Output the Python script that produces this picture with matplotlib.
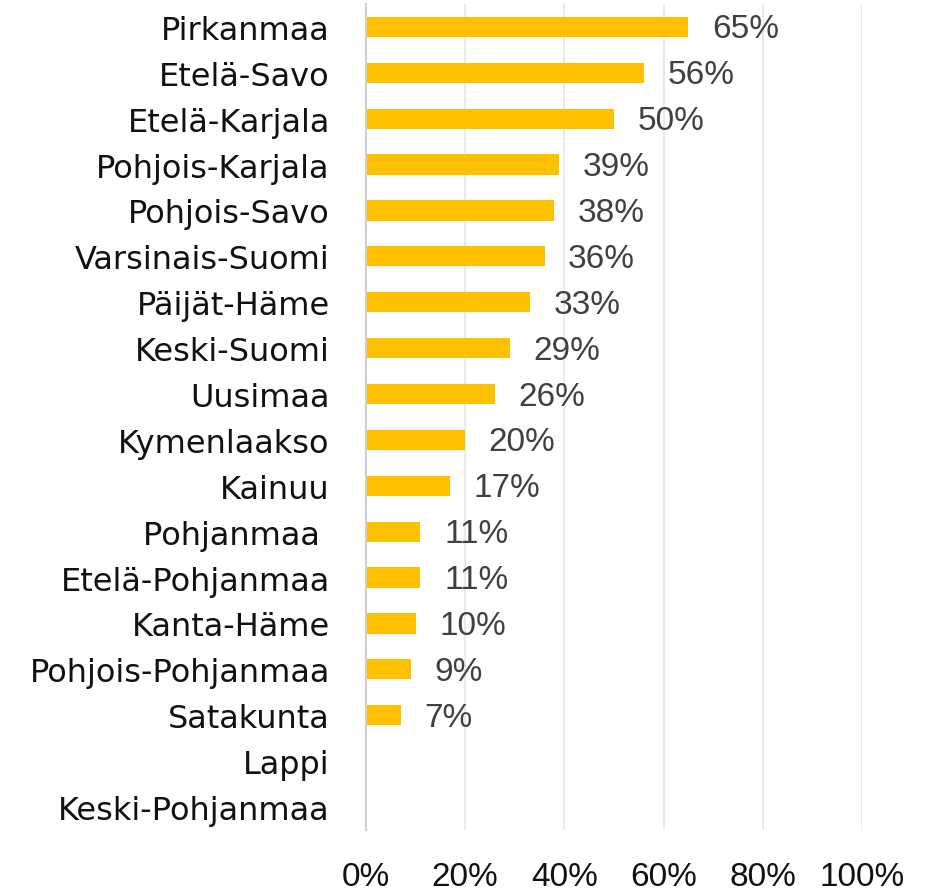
import matplotlib
matplotlib.use("Agg")
import matplotlib.pyplot as plt
from matplotlib.ticker import FuncFormatter

categories = ["Pirkanmaa", "Etelä-Savo", "Etelä-Karjala", "Pohjois-Karjala", "Pohjois-Savo",
              "Varsinais-Suomi", "Päijät-Häme", "Keski-Suomi", "Uusimaa", "Kymenlaakso",
              "Kainuu", "Pohjanmaa ", "Etelä-Pohjanmaa", "Kanta-Häme", "Pohjois-Pohjanmaa",
              "Satakunta", "Lappi", "Keski-Pohjanmaa"]
values = [65, 56, 50, 39, 38, 36, 33, 29, 26, 20, 17, 11, 11, 10, 9, 7, None, None]
xticks = [0, 20, 40, 60, 80, 100]

fig = plt.figure(figsize=(9.31, 8.95), dpi=100)
ax = fig.add_axes([0.393, 0.0715, 0.533, 0.923])

ypos = list(range(len(categories)))
bar_vals = [v if v is not None else 0 for v in values]
ax.barh(ypos, bar_vals, height=0.44, color="#FFC000", zorder=3)
for y, v in zip(ypos, values):
    if v is not None:
        ax.annotate(f"{v}%", (v, y), xytext=(17, -1.5), textcoords="offset points",
                    va="center", ha="left", fontsize=24, color="#404040",
                    family="Liberation Sans")

ax.set_ylim(len(categories) - 0.5, -0.5)
ax.set_xlim(0, 100)
ax.set_xticks(xticks)
ax.xaxis.set_major_formatter(FuncFormatter(lambda x, p: f"{int(x)}%"))
ax.set_yticks(ypos)
ax.set_yticklabels(categories, family="DejaVu Sans", fontsize=23, color="#111111")
for lab in ax.get_xticklabels():
    lab.set_family("Liberation Sans")
    lab.set_fontsize(24)
    lab.set_color("#111111")
ax.tick_params(axis="x", length=0, pad=22)
ax.tick_params(axis="y", length=0, pad=26)
ax.grid(axis="x", color="#E6E6E6", linewidth=1.2, zorder=0)
for s in ["top", "right", "bottom"]:
    ax.spines[s].set_visible(False)
ax.spines["left"].set_color("#D0D0D0")
ax.spines["left"].set_linewidth(1.5)
ax.spines["left"].set_zorder(4)

fig.savefig("out.png", dpi=100)
